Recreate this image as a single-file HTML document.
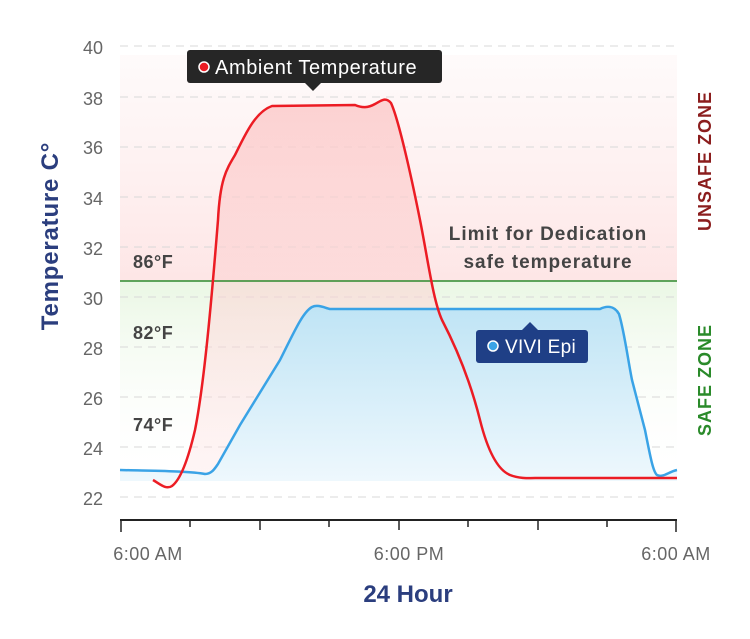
<!DOCTYPE html>
<html><head><style>
body{margin:0;background:#fff;}
svg{display:block;font-family:"Liberation Sans",sans-serif;}
</style></head><body>
<svg width="750" height="639" viewBox="0 0 750 639">
<defs>
<linearGradient id="unsafe" x1="0" y1="0" x2="0" y2="1">
<stop offset="0" stop-color="#fde8e8" stop-opacity="0.2"/>
<stop offset="1" stop-color="#fde3e3" stop-opacity="0.9"/>
</linearGradient>
<linearGradient id="safe" x1="0" y1="0" x2="0" y2="1">
<stop offset="0" stop-color="#eaf7e4"/>
<stop offset="1" stop-color="#ffffff" stop-opacity="0"/>
</linearGradient>
<linearGradient id="rf" x1="0" y1="0" x2="0" y2="1">
<stop offset="0" stop-color="#fcc8c8" stop-opacity="0.8"/>
<stop offset="1" stop-color="#fde0e0" stop-opacity="0.3"/>
</linearGradient>
<linearGradient id="bf" x1="0" y1="0" x2="0" y2="1">
<stop offset="0" stop-color="#bfe4f5"/>
<stop offset="1" stop-color="#eef8fd"/>
</linearGradient>
</defs>
<rect x="120" y="55" width="557" height="226" fill="url(#unsafe)"/>
<rect x="120" y="281" width="557" height="200" fill="url(#safe)"/>
<g stroke="#d8d8d8" stroke-dasharray="8,6" stroke-width="1">
<line x1="120" x2="677" y1="46" y2="46"/><line x1="120" x2="677" y1="97" y2="97"/>
<line x1="120" x2="677" y1="147" y2="147"/><line x1="120" x2="677" y1="197" y2="197"/>
<line x1="120" x2="677" y1="247" y2="247"/><line x1="120" x2="677" y1="297" y2="297"/>
<line x1="120" x2="677" y1="347" y2="347"/><line x1="120" x2="677" y1="397" y2="397"/>
<line x1="120" x2="677" y1="447" y2="447"/><line x1="120" x2="677" y1="497" y2="497"/>
</g>
<g fill="#666" font-size="18" text-anchor="end">
<text x="103" y="54">40</text><text x="103" y="105">38</text><text x="103" y="154">36</text>
<text x="103" y="205">34</text><text x="103" y="255">32</text><text x="103" y="305">30</text>
<text x="103" y="355">28</text><text x="103" y="405">26</text><text x="103" y="455">24</text>
<text x="103" y="505">22</text>
</g>
<path d="M153,480 C160,484 166,490 172,486 C180,480 188,460 195,430 C203,390 210,320 218,220 C220,180 226,170 235,155 C245,135 255,112 272,106 L355,105 C362,108 368,108 375,104 C382,100 386,97 391,103 C398,118 410,170 420,220 C428,260 433,300 442,320 C455,345 470,380 480,420 C488,452 498,470 510,475 C520,479 530,478 540,478 L677,478 L677,481 L153,481 Z" fill="url(#rf)"/>
<path d="M120,470 C160,471 190,471 205,474 C212,474 215,468 218,464 L240,425 L280,360 C295,330 303,312 312,307 C318,304 325,308 330,309 L600,309 C606,306 614,305 619,314 C624,330 628,360 632,380 L645,430 C650,455 653,472 657,475 C663,478 668,472 677,470 L677,481 L120,481 Z" fill="url(#bf)"/>
<line x1="120" x2="677" y1="281" y2="281" stroke="#2c8a2c" stroke-width="1.5"/>
<path d="M120,470 C160,471 190,471 205,474 C212,474 215,468 218,464 L240,425 L280,360 C295,330 303,312 312,307 C318,304 325,308 330,309 L600,309 C606,306 614,305 619,314 C624,330 628,360 632,380 L645,430 C650,455 653,472 657,475 C663,478 668,472 677,470" fill="none" stroke="#3aa3e6" stroke-width="2.5"/>
<path d="M153,480 C160,484 166,490 172,486 C180,480 188,460 195,430 C203,390 210,320 218,220 C220,180 226,170 235,155 C245,135 255,112 272,106 L355,105 C362,108 368,108 375,104 C382,100 386,97 391,103 C398,118 410,170 420,220 C428,260 433,300 442,320 C455,345 470,380 480,420 C488,452 498,470 510,475 C520,479 530,478 540,478 L677,478" fill="none" stroke="#ec1c24" stroke-width="2.5"/>
<line x1="120" x2="677" y1="520" y2="520" stroke="#222" stroke-width="2"/>
<g stroke="#222" stroke-width="1.5">
<line x1="121" x2="121" y1="520" y2="532"/><line x1="190" x2="190" y1="520" y2="527"/>
<line x1="260" x2="260" y1="520" y2="530"/><line x1="329" x2="329" y1="520" y2="527"/>
<line x1="399" x2="399" y1="520" y2="530"/><line x1="468" x2="468" y1="520" y2="527"/>
<line x1="538" x2="538" y1="520" y2="530"/><line x1="607" x2="607" y1="520" y2="527"/>
<line x1="676" x2="676" y1="520" y2="532"/>
</g>
<g fill="#666" font-size="18" text-anchor="middle" letter-spacing="0.5">
<text x="148" y="560">6:00 AM</text><text x="409" y="560">6:00 PM</text><text x="676" y="560">6:00 AM</text>
</g>
<text x="408" y="602" text-anchor="middle" fill="#2b3e7e" font-size="24" font-weight="bold">24 Hour</text>
<text transform="translate(58,236) rotate(-90)" text-anchor="middle" fill="#2b3e7e" font-size="24" font-weight="bold" letter-spacing="0.8">Temperature C°</text>
<g fill="#444" font-size="18" font-weight="bold" letter-spacing="0.5">
<text x="133" y="268">86°F</text><text x="133" y="339">82°F</text><text x="133" y="431">74°F</text>
<text x="548" y="240" text-anchor="middle" font-size="19" letter-spacing="1">Limit for Dedication</text>
<text x="548" y="268" text-anchor="middle" font-size="19" letter-spacing="1">safe temperature</text>
</g>
<text transform="translate(711,161) rotate(-90)" text-anchor="middle" fill="#8b1d1d" font-size="18" font-weight="bold" letter-spacing="1">UNSAFE ZONE</text>
<text transform="translate(711,380) rotate(-90)" text-anchor="middle" fill="#2a8a2a" font-size="18" font-weight="bold" letter-spacing="1">SAFE ZONE</text>
<rect x="187" y="50" width="255" height="33" rx="3" fill="#262626"/>
<path d="M305,83 L313,91 L321,83 Z" fill="#262626"/>
<circle cx="204" cy="67" r="5" fill="#ec1c24" stroke="#fff" stroke-width="1.5"/>
<text x="215" y="74" fill="#fff" font-size="20" letter-spacing="0.6">Ambient Temperature</text>
<rect x="476" y="330" width="112" height="33" rx="3" fill="#1f3f86"/>
<path d="M522,330 L530,322 L538,330 Z" fill="#1f3f86"/>
<circle cx="493" cy="346" r="5" fill="#3aa3e6" stroke="#fff" stroke-width="1.5"/>
<text x="505" y="353" fill="#fff" font-size="19" letter-spacing="0.3">VIVI Epi</text>
</svg>
</body></html>
